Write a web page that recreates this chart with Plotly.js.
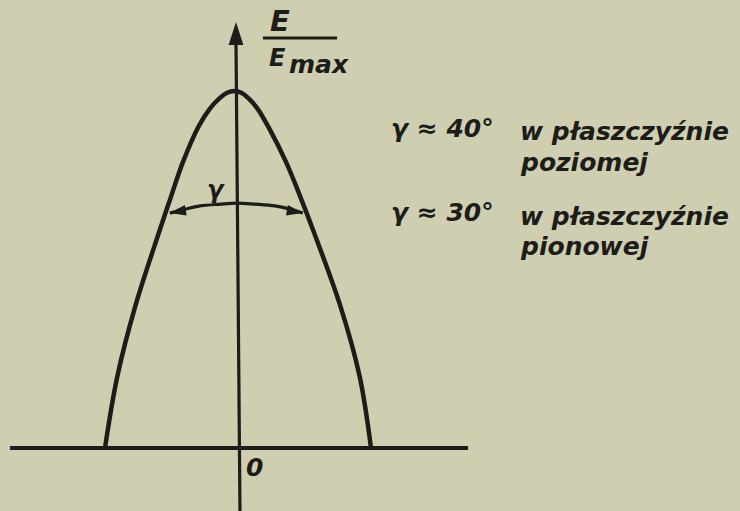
<!DOCTYPE html>
<html>
<head>
<meta charset="utf-8">
<script src="https://cdn.plot.ly/plotly-3.0.1.min.js"></script>
<style>html,body{margin:0;padding:0;background:#cfceb0;}#chart{width:740px;height:511px;}</style>
</head>
<body>
<div id="chart"></div>
<script>
// Radiation pattern: angle (deg) vs relative field strength E/Emax
const angleDeg = [-39.7, -36.0, -30.5, -23.6, -20.0, -16.3, -11.6, -8.2, -5.2, -3.0, -0.8,
                  1.3, 3.4, 6.2, 9.4, 14.8, 19.2, 23.3, 31.0, 36.9, 40.3];
const relE =     [0, 0.2, 0.4, 0.6, 0.7, 0.8, 0.9, 0.95, 0.98, 0.995, 1.0,
                  0.995, 0.98, 0.95, 0.9, 0.8, 0.7, 0.6, 0.4, 0.2, 0];
// Beam-width marker arc (gamma)
const arcX = [-20.2, -15.6, -11.1, -5.1, 0, 5.4, 11.4, 15.9, 19.8];
const arcY = [0.658, 0.669, 0.678, 0.683, 0.686, 0.683, 0.678, 0.669, 0.658];
// Axes lines
const hAxisX = [-68.3, 69.5];
const hAxisY = [0, 0];
const vAxisX = [0.9, -0.3];
const vAxisY = [-0.18, 1.14];
const vArrowTip = [-0.3, 1.193];
// Texts
const labelsLeft = ['γ ≈ 40°', 'γ ≈ 30°'];
const labelsRight = ['w płaszczyźnie', 'poziomej', 'w płaszczyźnie', 'pionowej'];

const ink = '#1c1c19';
const bg = '#cfceb0';
const fnt = (s) => ({family: 'DejaVu Sans', size: s, color: ink, weight: 'bold', style: 'italic'});

const traces = [
  {x: hAxisX, y: hAxisY, mode: 'lines', line: {color: ink, width: 4}, hoverinfo: 'skip'},
  {x: vAxisX, y: vAxisY, mode: 'lines', line: {color: ink, width: 3.2}, hoverinfo: 'skip'},
  {x: [vArrowTip[0]], y: [vArrowTip[1]], mode: 'markers', marker: {symbol: 'arrow', size: 24, color: ink, angle: 0}, hoverinfo: 'skip'},
  {x: angleDeg, y: relE, mode: 'lines', line: {color: ink, width: 4.5, shape: 'spline', smoothing: 1}, hoverinfo: 'skip'},
  {x: arcX, y: arcY, mode: 'lines', line: {color: ink, width: 3.2, shape: 'spline'}, hoverinfo: 'skip'},
  {x: [arcX[0], arcX[arcX.length-1]], y: [arcY[0], arcY[arcY.length-1]], mode: 'markers',
   marker: {symbol: 'arrow', size: 17, color: ink, angle: [-100, 100]}, hoverinfo: 'skip'}
];

const W = 740, H = 511;
const P = (px, py) => ({x: px / W, y: 1 - py / H});
function ann(text, px, py, size, xanchor) {
  const p = P(px, py);
  return {text: text, x: p.x, y: p.y, xref: 'paper', yref: 'paper', showarrow: false,
          xanchor: xanchor || 'center', yanchor: 'middle', font: fnt(size)};
}
const annotations = [
  ann('E', 280, 21, 29),
  ann('E', 277, 58, 24),
  ann('max', 287, 65, 25, 'left'),
  ann('γ', 216, 190, 24),
  ann('0', 255, 467, 25),
  ann(labelsLeft[0], 389, 129, 25, 'left'),
  ann(labelsRight[0], 518, 131, 25, 'left'),
  ann(labelsRight[1], 518, 162, 25, 'left'),
  ann(labelsLeft[1], 389, 212, 25, 'left'),
  ann(labelsRight[2], 518, 217, 25, 'left'),
  ann(labelsRight[3], 518, 246, 25, 'left')
];
const fb0 = P(263, 38), fb1 = P(337, 38);
const layout = {
  width: W, height: H, margin: {l: 0, r: 0, t: 0, b: 0},
  paper_bgcolor: bg, plot_bgcolor: bg, showlegend: false,
  xaxis: {range: [-71.28, 151.28], visible: false, fixedrange: true},
  yaxis: {range: [-0.1765, 1.2549], visible: false, fixedrange: true},
  annotations: annotations,
  shapes: [{type: 'line', xref: 'paper', yref: 'paper', x0: fb0.x, y0: fb0.y, x1: fb1.x, y1: fb1.y,
            line: {color: ink, width: 3.2}}]
};
Plotly.newPlot('chart', traces, layout, {displayModeBar: false, staticPlot: true});
</script>
</body>
</html>
